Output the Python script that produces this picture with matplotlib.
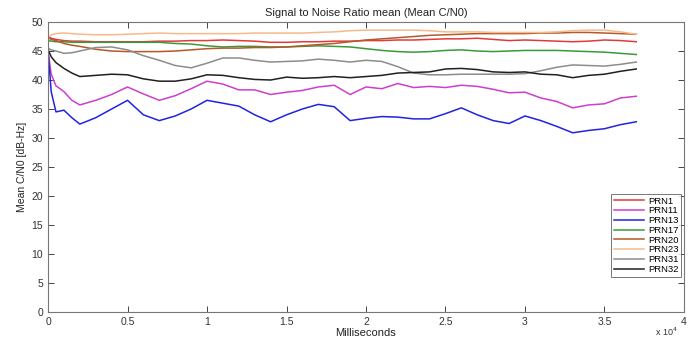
import numpy as np
import matplotlib.pyplot as plt

plt.rcParams['font.family'] = ['Liberation Sans', 'DejaVu Sans']

# time axis, thousands of milliseconds
t_k = [0, 0.2, 0.5, 1, 1.5, 2, 3, 4, 5, 6, 7, 8, 9, 10, 11, 12, 13, 14, 15, 16, 17, 18,
       19, 20, 21, 22, 23, 24, 25, 26, 27, 28, 29, 30, 31, 32, 33, 34, 35, 36, 37]

prn1 = [47.5, 47.2, 47.0, 46.8, 46.7, 46.7, 46.6, 46.6, 46.6, 46.6, 46.7, 46.7, 46.8, 46.8,
        46.9, 46.8, 46.7, 46.5, 46.5, 46.6, 46.6, 46.7, 46.7, 46.8, 46.8, 46.9, 46.9, 47.0,
        47.1, 47.1, 47.2, 47.0, 46.8, 46.9, 46.8, 46.7, 46.6, 46.7, 46.9, 46.8, 46.6]
prn11 = [45.0, 41.0, 39.0, 38.0, 36.5, 35.7, 36.5, 37.5, 38.8, 37.6, 36.5, 37.3, 38.5, 39.8,
         39.3, 38.3, 38.3, 37.5, 37.9, 38.2, 38.8, 39.1, 37.5, 38.8, 38.5, 39.4, 38.7, 38.9,
         38.7, 39.1, 38.9, 38.4, 37.8, 37.9, 36.9, 36.3, 35.2, 35.7, 35.9, 36.9, 37.2]
prn13 = [45.2, 38.0, 34.5, 34.8, 33.5, 32.4, 33.5, 35.0, 36.5, 34.0, 33.0, 33.8, 35.0, 36.5,
         36.0, 35.5, 34.0, 32.8, 34.0, 35.0, 35.8, 35.4, 33.0, 33.4, 33.7, 33.6, 33.3, 33.3,
         34.2, 35.2, 34.0, 33.0, 32.5, 33.8, 33.0, 32.0, 30.9, 31.3, 31.6, 32.3, 32.8]
prn17 = [46.8, 46.7, 46.6, 46.6, 46.5, 46.5, 46.5, 46.5, 46.5, 46.5, 46.5, 46.3, 46.2, 45.9,
         45.7, 45.8, 45.8, 45.7, 45.7, 45.8, 45.9, 45.8, 45.7, 45.4, 45.1, 44.9, 44.8, 44.9,
         45.1, 45.2, 45.0, 44.9, 45.0, 45.1, 45.1, 45.1, 45.0, 44.9, 44.8, 44.6, 44.4]
prn20 = [47.3, 47.0, 46.8, 46.3, 46.0, 45.8, 45.3, 45.0, 44.9, 44.9, 44.9, 45.0, 45.2, 45.4,
         45.5, 45.5, 45.6, 45.6, 45.7, 45.9, 46.1, 46.3, 46.6, 46.9, 47.1, 47.3, 47.5, 47.7,
         47.8, 47.9, 48.0, 48.0, 48.0, 48.0, 48.1, 48.1, 48.2, 48.2, 48.1, 48.0, 47.9]
prn23 = [47.3, 47.8, 48.0, 48.1, 48.0, 47.9, 47.8, 47.8, 47.9, 48.0, 48.1, 48.0, 48.0, 48.0,
         48.0, 48.0, 48.1, 48.1, 48.1, 48.1, 48.2, 48.3, 48.5, 48.6, 48.6, 48.6, 48.6, 48.5,
         48.3, 48.3, 48.3, 48.2, 48.2, 48.2, 48.2, 48.3, 48.5, 48.6, 48.6, 48.3, 47.9]
prn31 = [45.5, 45.2, 45.0, 44.6, 44.7, 45.0, 45.6, 45.7, 45.2, 44.2, 43.4, 42.5, 42.1, 42.9,
         43.8, 43.8, 43.4, 43.1, 43.2, 43.3, 43.6, 43.4, 43.1, 43.4, 43.2, 42.3, 41.2, 40.9,
         40.9, 41.0, 41.0, 41.0, 41.0, 41.1, 41.6, 42.2, 42.6, 42.5, 42.4, 42.7, 43.1]
prn32 = [45.3, 44.0, 43.0, 42.0, 41.2, 40.6, 40.8, 41.0, 40.9, 40.2, 39.8, 39.8, 40.2, 40.9,
         40.8, 40.4, 40.1, 40.0, 40.5, 40.3, 40.4, 40.6, 40.4, 40.6, 40.8, 41.2, 41.3, 41.4,
         41.9, 42.0, 41.8, 41.4, 41.3, 41.4, 41.0, 40.9, 40.4, 40.8, 41.0, 41.5, 41.9]

names = ['PRN1', 'PRN11', 'PRN13', 'PRN17', 'PRN20', 'PRN23', 'PRN31', 'PRN32']
colors = ['#e23a3a', '#cc3fcc', '#2222e0', '#3a9a3a', '#b5582a', '#f7b98a', '#8c8c8c', '#202020']
series = [prn1, prn11, prn13, prn17, prn20, prn23, prn31, prn32]

xtick_vals = [0, 5000, 10000, 15000, 20000, 25000, 30000, 35000, 40000]
xtick_labels = ['0', '0.5', '1', '1.5', '2', '2.5', '3', '3.5', '4']

t_ms = np.array(t_k) * 1000

fig = plt.figure(figsize=(7, 3.44), dpi=100)
ax = fig.add_axes([0.0686, 0.093, 0.9085, 0.843])

for name, col, y in zip(names, colors, series):
    ax.plot(t_ms, y, color=col, lw=1.1, label=name)

ax.set_xlim(0, 40000)
ax.set_ylim(0, 50)
ax.set_xticks(xtick_vals)
ax.set_xticklabels(xtick_labels)
ax.set_yticks(np.arange(0, 51, 5))
ax.tick_params(direction='in', top=True, right=True, length=4, width=0.7,
               labelsize=7.5, colors='#444444', labelcolor='#333333')
for s in ax.spines.values():
    s.set_color('#777777')
    s.set_linewidth(0.8)

ax.set_title('Signal to Noise Ratio mean (Mean C/N0)', fontsize=8, color='#222222', pad=4)
ax.set_xlabel('Milliseconds', fontsize=8, color='#222222', labelpad=1)
ax.set_ylabel('Mean C/N0 [dB-Hz]', fontsize=7.5, color='#222222', labelpad=3)
ax.text(0.99, -0.068, 'x 10$^4$', transform=ax.transAxes, fontsize=6.5,
        color='#333333', ha='right', va='center')

leg = ax.legend(loc='lower right', bbox_to_anchor=(0.999, 0.115), fontsize=6.8,
                frameon=True, fancybox=False, handlelength=3.2, labelspacing=0.08,
                borderpad=0.3, handletextpad=0.4, borderaxespad=0.2)
leg.get_frame().set_edgecolor('#555555')
leg.get_frame().set_linewidth(0.7)

plt.savefig('out.png', dpi=100)
